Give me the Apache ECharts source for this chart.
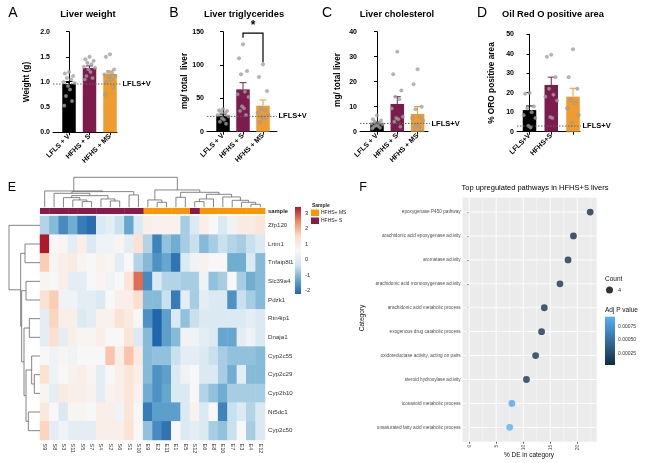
<!DOCTYPE html>
<html><head><meta charset="utf-8">
<script src="https://cdn.jsdelivr.net/npm/echarts@6/dist/echarts.min.js"></script>
<style>html,body{margin:0;padding:0;background:#fff}#c{width:650px;height:463px}</style>
</head><body><div id="c"></div><script>
// ---------------- DATA ----------------
const groupLabels = ['LFLS + V', 'HFHS + S', 'HFHS + MS'];
const groupLabelsD = ['LFLS+V', 'HFHS+S', ''];
const refLabel = 'LFLS+V';
const refValues = [0.96, 23, 3.3, 2.9];

const weightMean = [0.96, 1.28, 1.16];
const weightSem = [0.05, 0.04, 0.06];
const weightLV = [1.2, 1.17, 1.12, 1.08, 1.05, 1.0, 0.98, 0.92, 0.85, 0.72, 0.62, 0.53];
const weightHS = [1.5, 1.45, 1.42, 1.38, 1.35, 1.3, 1.28, 1.25, 1.2, 1.12, 1.08, 1.05];
const weightHMS = [1.55, 1.5, 1.25, 1.2, 1.18, 1.15, 1.12, 1.1, 1.05, 1.0, 0.9, 0.75];

const tgMean = [24, 63.5, 39];
const tgSem = [2.5, 10, 8.5];
const tgLV = [34, 32, 31, 30, 28, 25, 23, 20, 18, 15, 12];
const tgHS = [131, 110, 91, 86, 60, 56, 52, 38, 35, 31, 25];
const tgHMS = [101, 82, 61, 35, 32, 28, 25, 22, 20, 14];
const tgSig = [[1, 2, 148, 141, 104, '*']];

const cholMean = [3.3, 11.1, 7.1];
const cholSem = [0.5, 2.9, 3.0];
const cholLV = [6.5, 5, 4.5, 4, 3.5, 3.2, 3, 2.6, 2.3, 2, 1.6, 1.3];
const cholHS = [32, 23, 16.5, 14, 13, 9.3, 6, 5.5, 5, 4, 2];
const cholHMS = [25, 19, 10, 9, 6, 5.5, 4.5, 3, 2, 1.5, 1];

const oroMean = [11.1, 24, 18];
const oroSem = [2.1, 4, 4.3];
const oroLV = [20, 19.5, 13, 12, 10, 8.5, 7, 3, 2.2];
const oroHS = [39.5, 38.5, 28, 22, 19, 18, 16, 7.5, 7];
const oroHMS = [42.3, 28, 22, 16.3, 14.6, 12, 8.6, 4.3];

const sampleLabels = ['S9','S8','S3','S11','S5','S7','S4','S2','S6','S1','S10','E9','E2','E11','E1','E5','S12','E6','E8','E10','E7','E3','E4','E12'];
const sampleGroup = ['S','S','S','S','S','S','S','S','S','S','S','MS','MS','MS','MS','MS','S','MS','MS','MS','MS','MS','MS','MS'];
const geneLabels = ['Zfp120','Lrtm1','Tnfaip8l1','Slc39a4','Pdzk1','Rtn4ip1','Dnaja1','Cyp2c55','Cyp2c29','Cyp2b10','Nt5dc1','Cyp2c50'];
const heatValues = [
 [-0.6,-1.0,-1.7,-1.2,-1.9,-2.1,-0.1,0.1,-0.4,-1.3,-0.1, 0.9,0.8,0.8,0.8,-0.7,-0.1,0.9,0.6,-0.1,0.4,1.0,1.0,1.2],
 [3.4,0.6,0.7,0.1,0.9,-0.1,0.4,0.4,0.7,0.1,1.3, -0.6,-1.8,-0.9,-1.2,-0.7,-0.4,-1.0,-0.7,-0.4,-0.6,-0.7,-0.4,-0.1],
 [1.7,0.7,0.9,1.0,0.7,0.6,0.8,0.7,0.1,0.6,-0.6, -1.0,-1.6,-1.3,-2.0,-0.1,0.4,0.8,0.6,0.6,-1.2,-1.2,-0.1,-1.0],
 [0.7,0.6,0.9,0.1,0.1,0.6,0.7,0.4,0.6,1.2,2.7, -1.7,-0.1,-0.6,-0.6,-0.7,-0.7,0.4,-0.9,-0.7,0.6,-0.7,-1.2,-1.0],
 [1.3,1.7,0.4,0.4,0.1,0.1,-0.1,0.6,0.9,0.9,1.4, -1.0,-1.0,-0.4,-1.9,0.1,-0.7,0.1,-0.1,-0.1,-1.6,-0.4,-0.7,-1.0],
 [0.1,1.6,0.9,0.9,-0.1,0.1,0.8,0.8,1.3,1.0,0.6, -1.6,-2.2,-1.4,-0.1,-0.9,-0.4,-0.1,-0.1,-0.1,-0.1,-0.1,0.1,-0.1],
 [0.1,1.4,0.1,0.9,0.7,0.7,0.9,0.6,0.6,1.2,-0.1, -1.0,-2.2,-1.4,-1.0,0.4,0.4,0.1,-0.1,-1.3,-1.3,0.1,0.4,-0.1],
 [0.6,0.4,0.7,0.4,0.6,0.6,0.6,1.8,0.9,1.8,1.0, -1.0,-0.9,-0.9,-0.4,0.1,0.1,-0.1,-0.4,-0.7,-0.9,-0.9,-0.9,-1.0],
 [1.3,0.4,0.6,0.8,0.9,0.7,0.1,0.6,0.9,1.2,0.9, -1.0,-1.6,-1.4,-0.1,0.4,0.6,-0.1,-0.1,-0.7,-1.2,0.1,-1.0,-1.0],
 [0.7,0.1,1.0,0.9,0.9,0.8,0.1,0.8,0.9,1.2,0.8, -1.2,-1.6,-1.3,-0.1,-0.1,0.6,-0.6,-0.9,-1.2,-0.7,-0.7,-0.7,-0.7],
 [1.1,0.6,-0.1,0.7,0.7,0.6,0.9,0.9,0.4,1.2,0.6, -1.9,-1.4,-1.4,-1.4,-0.1,0.8,-0.1,0.6,-1.8,-0.4,-0.1,-0.6,-0.1],
 [1.6,0.1,0.4,0.1,0.1,0.1,0.9,0.9,0.9,1.3,0.6, -0.9,-1.7,-2.0,0.6,-0.1,0.1,-0.1,-0.7,-0.9,-0.4,0.6,-0.7,-0.1]
];
const heatRange = [-2.2, 3.4];
const heatTicks = [-2, -1, 0, 1, 2, 3];
// dendrogram merges: [childA, childB, height]; ids >= leaf count refer to earlier merges
const colMerges = [
 [4,5,17],[3,24,22],[2,25,29],[7,8,19],[6,27,25],[26,28,35],[1,29,42],[9,10,37],[30,31,47],[0,32,49],
 [12,13,15],[11,34,22],[14,15,30],[16,17,17],[37,18,25],[22,23,9],[21,39,15],[20,40,21],[19,41,31],
 [38,42,39],[36,43,45],[35,44,52],[33,45,90]
];
const rowMerges = [
 [1,2,45],[3,4,42],[5,6,32],[8,9,17],[7,15,25],[10,11,35],[16,17,42],[14,18,48],[13,19,55],[12,20,58],[0,21,93]
];

const fCategories = ['epoxygenase P450 pathway','arachidonic acid epoxygenase activity','aromatase activity','arachidonic acid monooxygenase activity','arachidonic acid metabolic process','exogenous drug catabolic process','oxidoreductase activity, acting on pairs','steroid hydroxylase activity','icosanoid metabolic process','unsaturated fatty acid metabolic process'];
const fPercent = [22.4, 19.3, 18.3, 16.8, 13.9, 13.4, 12.3, 10.6, 7.9, 7.5];
const fAdjP = [0.00008, 0.00009, 0.0001, 0.00011, 0.00011, 0.00012, 0.00012, 0.00013, 0.00085, 0.00092];
const fCount = 4;
const fXTicks = [0, 5, 10, 15, 20];
const fPRange = [0.00005, 0.00092];
const fPTicks = [0.00025, 0.0005, 0.00075];

// ---------------- STYLE / LAYOUT ----------------
const FONT = '"Liberation Sans", Arial, Helvetica, sans-serif';
const barColors = ['#000000', '#7b1c4c', '#ee9b30'];
const annotColors = {MS: '#ff9400', S: '#8a1a4c'};
const heatPalette = ['#2166ac','#67a9cf','#d1e5f0','#f7f7f7','#fddbc7','#ef8a62','#b2182b'];

const option = {
  animation: false,
  textStyle: {fontFamily: FONT},
  grid: [], xAxis: [], yAxis: [], series: [], visualMap: [], legend: [],
  graphic: {elements: []}
};
function addGrid(g) {
  option.grid.push(Object.assign({outerBoundsMode: 'none', containLabel: false, show: false}, g));
  return option.grid.length - 1;
}
function txt(text, x, y, o) {
  o = o || {};
  option.graphic.elements.push({
    type: 'text', x: x, y: y, rotation: o.rot || 0, silent: true,
    style: {text: text, fontSize: o.size || 8, fontWeight: o.weight || 'normal', fontFamily: FONT,
      fill: o.color || '#000', align: o.align || 'center', verticalAlign: 'middle',
      textAlign: o.align || 'center', textVerticalAlign: 'middle'}
  });
}
const hidden = {show: false};

// ---------- Panels A-D ----------
const panels = [
  {mean: weightMean, sem: weightSem, pts: [weightLV, weightHS, weightHMS], labels: groupLabels, ref: refValues[0], ymax: 2, yint: 0.5, fmt: v => v.toFixed(1),
   left: 53, right: 117, top: 31.7, bottom: 132.3, c0: 69, step: 20.5, refEnd: 121, name: 'Weight (g)', nameX: 27, nameY: 82},
  {mean: tgMean, sem: tgSem, pts: [tgLV, tgHS, tgHMS], labels: groupLabels, ref: refValues[1], ymax: 150, yint: 50, fmt: v => String(v),
   left: 207, right: 277, top: 31.7, bottom: 131.7, c0: 223, step: 20, refEnd: 277, name: 'mg/ total  liver', nameX: 185, nameY: 81, sig: tgSig},
  {mean: cholMean, sem: cholSem, pts: [cholLV, cholHS, cholHMS], labels: groupLabels, ref: refValues[2], ymax: 40, yint: 10, fmt: v => String(v),
   left: 360, right: 428, top: 31.7, bottom: 131.7, c0: 377, step: 20.3, refEnd: 430, name: 'mg/ total liver', nameX: 338, nameY: 80},
  {mean: oroMean, sem: oroSem, pts: [oroLV, oroHS, oroHMS], labels: groupLabelsD, ref: refValues[3], ymax: 50, yint: 10, fmt: v => String(v),
   left: 517, right: 580, top: 34.3, bottom: 131.7, c0: 529.5, step: 21.75, refEnd: 581, name: '% ORO positive area', nameX: 492, nameY: 83}
];
const jitPattern = [0, -0.2, 0.2, -0.1, 0.1, -0.27, 0.27, -0.05, 0.05, -0.15, 0.15, -0.23, 0.23];

panels.forEach(p => {
  const gi = addGrid({left: p.left, top: p.top, width: p.right - p.left, height: p.bottom - p.top});
  const xmin = (p.left - p.c0) / p.step, xmax = (p.right - p.c0) / p.step;
  const xEnd = (p.refEnd - p.c0) / p.step;
  option.xAxis.push({type: 'value', gridIndex: gi, min: xmin, max: xmax,
    axisLine: {show: true, onZero: false, lineStyle: {color: '#000', width: 1}},
    axisTick: {show: true, customValues: [0, 1, 2], length: 3, lineStyle: {color: '#000'}},
    axisLabel: {customValues: [0, 1, 2], formatter: v => p.labels[Math.round(v)], rotate: 45, fontSize: 7, fontWeight: 'bold', color: '#000', margin: 3},
    splitLine: hidden});
  option.yAxis.push({type: 'value', gridIndex: gi, min: 0, max: p.ymax, interval: p.yint,
    axisLine: {show: true, lineStyle: {color: '#000', width: 1}},
    axisTick: {show: true, length: 3, lineStyle: {color: '#000'}},
    axisLabel: {fontSize: 7, fontWeight: 'bold', color: '#000', margin: 3, formatter: p.fmt},
    splitLine: hidden});
  option.series.push({type: 'bar', xAxisIndex: gi, yAxisIndex: gi, barWidth: 13.5, z: 2,
    data: p.mean.map((m, i) => ({value: [i, m], itemStyle: {color: barColors[i]}}))});
  option.series.push({type: 'custom', xAxisIndex: gi, yAxisIndex: gi, z: 3, clip: false,
    data: p.mean.map((m, i) => [i, m, p.sem[i]]),
    renderItem: (params, api) => {
      const x = api.value(0), m = api.value(1), s = api.value(2);
      const a = api.coord([x, m]), b = api.coord([x, m + s]);
      const c = barColors[params.dataIndex];
      return {type: 'group', children: [
        {type: 'line', shape: {x1: a[0], y1: a[1], x2: b[0], y2: b[1]}, style: {stroke: c, lineWidth: 1}},
        {type: 'line', shape: {x1: b[0] - 3.5, y1: b[1], x2: b[0] + 3.5, y2: b[1]}, style: {stroke: c, lineWidth: 1}}
      ]};
    }});
  const pts = [];
  p.pts.forEach((arr, i) => arr.forEach((v, j) => pts.push([i + jitPattern[j % jitPattern.length], v])));
  option.series.push({type: 'scatter', xAxisIndex: gi, yAxisIndex: gi, z: 4, symbolSize: 3.6,
    itemStyle: {color: '#a2a2a2', borderColor: '#8a8a8a', borderWidth: 0.3}, data: pts});
  option.series.push({type: 'custom', xAxisIndex: gi, yAxisIndex: gi, z: 5, clip: false,
    data: [[xmin, xEnd, p.ref]],
    renderItem: (params, api) => {
      const a = api.coord([api.value(0), api.value(2)]), b = api.coord([api.value(1), api.value(2)]);
      return {type: 'group', children: [
        {type: 'line', shape: {x1: a[0], y1: a[1], x2: b[0], y2: b[1]}, style: {stroke: '#666', lineWidth: 1, lineDash: [1.5, 1.5]}},
        {type: 'text', style: {text: refLabel, x: b[0] + 1.5, y: b[1], fontSize: 7.5, fontWeight: 'bold', fontFamily: FONT, fill: '#000',
          align: 'left', verticalAlign: 'middle', textAlign: 'left', textVerticalAlign: 'middle'}}
      ]};
    }});
  if (p.sig) {
    option.series.push({type: 'custom', xAxisIndex: gi, yAxisIndex: gi, z: 5, clip: false,
      data: p.sig,
      renderItem: (params, api) => {
        const x1 = api.value(0), x2 = api.value(1), yt = api.value(2), yl = api.value(3), yr = api.value(4);
        const p1 = api.coord([x1, yl]), p2 = api.coord([x1, yt]), p3 = api.coord([x2, yt]), p4 = api.coord([x2, yr]);
        return {type: 'group', children: [
          {type: 'polyline', shape: {points: [p1, p2, p3, p4]}, style: {stroke: '#000', lineWidth: 1.2, fill: null}},
          {type: 'text', style: {text: p.sig[params.dataIndex][5], x: (p2[0] + p3[0]) / 2, y: p2[1] - 1, fontSize: 12, fontWeight: 'bold', fontFamily: FONT, fill: '#000',
            align: 'center', verticalAlign: 'bottom', textAlign: 'center', textVerticalAlign: 'bottom'}}
        ]};
      }});
  }
  txt(p.name, p.nameX, p.nameY, {rot: Math.PI / 2, size: 8.3, weight: 'bold'});
});
txt('A', 13, 13, {size: 14});
txt('B', 174, 13, {size: 14});
txt('C', 327, 13, {size: 14});
txt('D', 482, 13, {size: 14});
txt('Liver weight', 88, 14, {size: 9.5, weight: 'bold'});
txt('Liver triglycerides', 244, 14, {size: 9.3, weight: 'bold'});
txt('Liver cholesterol', 397, 14, {size: 9.3, weight: 'bold'});
txt('Oil Red O positive area', 553, 14, {size: 9.3, weight: 'bold'});

// ---------- Panel E: heatmap ----------
const hx = 40, hw = 225;
const gHeat = addGrid({left: hx, top: 216, width: hw, height: 224});
option.xAxis.push({type: 'category', gridIndex: gHeat, data: sampleLabels, axisLine: hidden, axisTick: hidden,
  axisLabel: {interval: 0, rotate: -90, fontSize: 5.5, color: '#333', margin: 3.5}, splitLine: hidden});
option.yAxis.push({type: 'category', gridIndex: gHeat, data: geneLabels, inverse: true, position: 'right', axisLine: hidden, axisTick: hidden,
  axisLabel: {interval: 0, fontSize: 6.2, color: '#333', margin: 3}, splitLine: hidden});
const heatData = [];
heatValues.forEach((row, r) => row.forEach((v, c) => heatData.push([c, r, v])));
option.series.push({type: 'heatmap', xAxisIndex: gHeat, yAxisIndex: gHeat, data: heatData, itemStyle: {borderWidth: 0}});
const heatSeriesIndex = option.series.length - 1;
option.visualMap.push({type: 'continuous', show: false, seriesIndex: heatSeriesIndex, dimension: 2,
  min: heatRange[0], max: heatRange[1], inRange: {color: heatPalette}});

// annotation bar
const gAnn = addGrid({left: hx, top: 208, width: hw, height: 6});
option.xAxis.push({type: 'category', gridIndex: gAnn, data: sampleLabels, axisLine: hidden, axisTick: hidden, axisLabel: hidden, splitLine: hidden});
option.yAxis.push({type: 'category', gridIndex: gAnn, data: ['sample'], position: 'right', axisLine: hidden, axisTick: hidden,
  axisLabel: {fontSize: 5.8, fontWeight: 'bold', color: '#222', margin: 3}, splitLine: hidden});
[['MS', 'HFHS+ MS'], ['S', 'HFHS+ S']].forEach(([key, name]) => {
  option.series.push({type: 'custom', name: name, xAxisIndex: gAnn, yAxisIndex: gAnn, itemStyle: {color: annotColors[key]},
    data: sampleGroup.map((g, i) => g === key ? [i, 0] : null).filter(d => d),
    renderItem: (params, api) => {
      const c = api.coord([api.value(0), 0]); const s = api.size([1, 1]);
      return {type: 'rect', shape: {x: c[0] - s[0] / 2, y: c[1] - s[1] / 2, width: s[0] + 0.4, height: s[1]}, style: {fill: annotColors[key]}};
    }});
});
option.legend.push({data: ['HFHS+ MS', 'HFHS+ S'], orient: 'vertical', left: 311, top: 209.5, itemWidth: 8, itemHeight: 6.5, itemGap: 1.5,
  icon: 'rect', padding: 0, selectedMode: false, textStyle: {fontSize: 5, color: '#222', fontFamily: FONT, padding: [0, 0, 0, -3]}});
txt('Sample', 312, 205.5, {size: 5, weight: 'bold', align: 'left', color: '#222'});

// dendrograms
function dendroSegments(nLeaves, merges) {
  const pos = [], hgt = [], segs = [];
  for (let i = 0; i < nLeaves; i++) { pos.push(i + 0.5); hgt.push(0); }
  merges.forEach(([a, b, h]) => {
    segs.push([pos[a], hgt[a], pos[b], hgt[b], h]);
    pos.push((pos[a] + pos[b]) / 2); hgt.push(h);
  });
  return segs;
}
const dendroStyle = {stroke: '#666', lineWidth: 0.8, fill: null};
const gTop = addGrid({left: hx, top: 177.3, width: hw, height: 30});
option.xAxis.push({type: 'value', gridIndex: gTop, min: 0, max: sampleLabels.length, show: false});
option.yAxis.push({type: 'value', gridIndex: gTop, min: 0, max: 90, show: false});
option.series.push({type: 'custom', xAxisIndex: gTop, yAxisIndex: gTop, clip: false, silent: true,
  data: dendroSegments(sampleLabels.length, colMerges),
  renderItem: (params, api) => {
    const xa = api.value(0), ha = api.value(1), xb = api.value(2), hb = api.value(3), h = api.value(4);
    return {type: 'polyline', shape: {points: [api.coord([xa, ha]), api.coord([xa, h]), api.coord([xb, h]), api.coord([xb, hb])]}, style: dendroStyle};
  }});
const gLeft = addGrid({left: 9, top: 216, width: 31, height: 224});
option.xAxis.push({type: 'value', gridIndex: gLeft, min: 0, max: 93, inverse: true, show: false});
option.yAxis.push({type: 'value', gridIndex: gLeft, min: 0, max: geneLabels.length, inverse: true, show: false});
option.series.push({type: 'custom', xAxisIndex: gLeft, yAxisIndex: gLeft, clip: false, silent: true,
  data: dendroSegments(geneLabels.length, rowMerges),
  renderItem: (params, api) => {
    const ya = api.value(0), ha = api.value(1), yb = api.value(2), hb = api.value(3), h = api.value(4);
    return {type: 'polyline', shape: {points: [api.coord([ha, ya]), api.coord([h, ya]), api.coord([h, yb]), api.coord([hb, yb])]}, style: dendroStyle};
  }});

// E colour bar
const gCb = addGrid({left: 295, top: 207, width: 6, height: 87});
option.xAxis.push({type: 'value', gridIndex: gCb, min: 0, max: 1, show: false});
option.yAxis.push({type: 'value', gridIndex: gCb, min: heatRange[0], max: heatRange[1], position: 'right',
  axisLine: hidden, axisTick: hidden, splitLine: hidden,
  axisLabel: {customValues: heatTicks, fontSize: 5.8, color: '#333', margin: 4}});
option.series.push({type: 'custom', xAxisIndex: gCb, yAxisIndex: gCb, silent: true,
  data: [[0, heatRange[0], 1, heatRange[1]]],
  renderItem: (params, api) => {
    const a = api.coord([api.value(0), api.value(3)]), b = api.coord([api.value(2), api.value(1)]);
    const n = heatPalette.length;
    const stops = heatPalette.map((c, i) => ({offset: 1 - i / (n - 1), color: c})).reverse();
    return {type: 'rect', shape: {x: a[0], y: a[1], width: b[0] - a[0], height: b[1] - a[1]},
      style: {fill: new echarts.graphic.LinearGradient(0, 0, 0, 1, stops)}};
  }});
txt('E', 12, 188, {size: 12.5});

// ---------- Panel F ----------
const gF = addGrid({left: 462.7, top: 197.7, width: 134, height: 244, show: true, backgroundColor: '#ebebeb', borderWidth: 0});
option.xAxis.push({type: 'value', gridIndex: gF, min: -1.2, max: 23.6,
  axisLine: hidden, splitLine: hidden,
  axisTick: {show: true, customValues: fXTicks, length: 2, lineStyle: {color: '#333', width: 0.8}},
  axisLabel: {customValues: fXTicks, rotate: 90, fontSize: 5, color: '#4d4d4d', margin: 3}});
option.yAxis.push({type: 'value', gridIndex: gF, min: 0.4, max: fCategories.length + 0.6, inverse: true,
  axisLine: hidden, splitLine: hidden,
  axisTick: {show: true, customValues: fCategories.map((c, i) => i + 1), length: 2, lineStyle: {color: '#333', width: 0.8}},
  axisLabel: {customValues: fCategories.map((c, i) => i + 1), formatter: v => fCategories[Math.round(v) - 1], fontSize: 4.7, color: '#4d4d4d', margin: 2}});
const fGridLines = [];
fXTicks.forEach(t => fGridLines.push(['v', t, 0.9]));
fXTicks.forEach(t => fGridLines.push(['v', t + 2.5, 0.45]));
fCategories.forEach((c, i) => fGridLines.push(['h', i + 1, 0.9]));
option.series.push({type: 'custom', xAxisIndex: gF, yAxisIndex: gF, silent: true, z: 1,
  data: fGridLines.map((g, i) => [i]),
  renderItem: (params, api) => {
    const g = fGridLines[params.dataIndex];
    let a, b;
    if (g[0] === 'v') { a = api.coord([g[1], 0.4]); b = api.coord([g[1], fCategories.length + 0.6]); }
    else { a = api.coord([-1.2, g[1]]); b = api.coord([23.6, g[1]]); }
    return {type: 'line', shape: {x1: a[0], y1: a[1], x2: b[0], y2: b[1]}, style: {stroke: '#fff', lineWidth: g[2]}};
  }});
option.series.push({type: 'scatter', name: String(fCount), xAxisIndex: gF, yAxisIndex: gF, z: 3, symbolSize: 6.8,
  data: fPercent.map((v, i) => [v, i + 1, fAdjP[i]])});
option.visualMap.push({type: 'continuous', show: false, seriesIndex: option.series.length - 1, dimension: 2,
  min: fPRange[0], max: fPRange[1], inRange: {color: ['#132B43', '#56B1F7']}});
option.legend.push({data: [{name: String(fCount), icon: 'circle', itemStyle: {color: '#000'}}], left: 606, top: 286.5,
  itemWidth: 7, itemHeight: 7, padding: 0, selectedMode: false, textStyle: {fontSize: 5.5, color: '#333', fontFamily: FONT}});
// F colour bar
const gFcb = addGrid({left: 605, top: 316.7, width: 10, height: 48.3});
option.xAxis.push({type: 'value', gridIndex: gFcb, min: 0, max: 1, show: false});
option.yAxis.push({type: 'value', gridIndex: gFcb, min: fPRange[0], max: fPRange[1], position: 'right',
  axisLine: hidden, splitLine: hidden,
  axisTick: {show: true, inside: true, customValues: fPTicks, length: 2, lineStyle: {color: '#fff', width: 0.8}},
  axisLabel: {customValues: fPTicks, formatter: v => v.toFixed(5), fontSize: 5, color: '#333', margin: 3}});
option.series.push({type: 'custom', xAxisIndex: gFcb, yAxisIndex: gFcb, silent: true, z: 1,
  data: [[0, fPRange[0], 1, fPRange[1]]],
  renderItem: (params, api) => {
    const a = api.coord([api.value(0), api.value(3)]), b = api.coord([api.value(2), api.value(1)]);
    return {type: 'rect', shape: {x: a[0], y: a[1], width: b[0] - a[0], height: b[1] - a[1]},
      style: {fill: new echarts.graphic.LinearGradient(0, 0, 0, 1, [{offset: 0, color: '#56B1F7'}, {offset: 1, color: '#132B43'}])}};
  }});
txt('F', 363, 188, {size: 12.5});
txt('Top upregulated pathways in HFHS+S livers', 535, 188, {size: 7.5});
txt('% DE in category', 529, 455, {size: 6.5, color: '#111'});
txt('Category', 362, 318, {size: 6.5, rot: Math.PI / 2, color: '#111'});
txt('Count', 605, 279, {size: 6.5, align: 'left', color: '#111'});
txt('Adj P value', 605, 310, {size: 6.5, align: 'left', color: '#111'});

const chart = echarts.init(document.getElementById('c'), null, {renderer: 'canvas'});
chart.setOption(option);
</script></body></html>
